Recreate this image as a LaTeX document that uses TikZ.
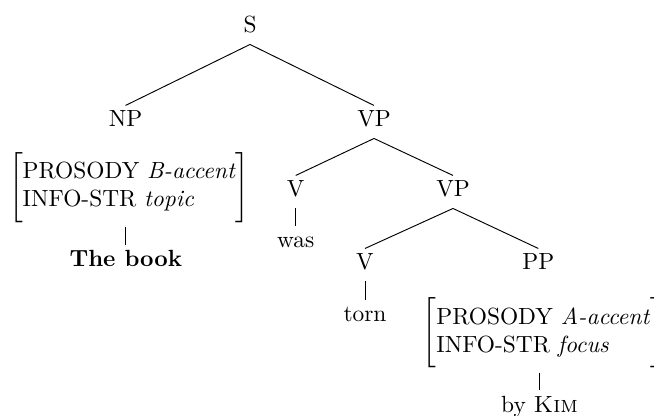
\documentclass[tikz,border=0pt]{standalone}
\begin{document}
\begin{tikzpicture}[x=0.42735pt,y=-0.42735pt,
  lbl/.style={inner sep=2.5pt,text height=6.5pt,text depth=2.2pt,anchor=base},
  avm/.style={inner sep=1.7pt,anchor=base},
  edge/.style={line width=0.4pt}]
\path[use as bounding box] (0,0) rectangle (654,416);
\clip (0,0) rectangle (654,416);
\node[lbl] (S) at (250,33) {S};
\node[lbl] (NP) at (125.5,127) {NP};
\node[lbl] (VP1) at (374,127) {VP};
\node[lbl] (V1) at (295.7,197) {V};
\node[lbl] (VP2) at (453,197) {VP};
\node[lbl] (was) at (295.7,247.3) {was};
\node[lbl] (V2) at (365,270) {V};
\node[lbl] (PP) at (538.3,270) {PP};
\node[lbl] (torn) at (365,321.7) {torn};
\node[avm] (avm1) at (129.2,193.2) {$\Bigg[\begin{tabular}{@{}l@{}}PROSODY \textit{B-accent}\\INFO-STR \textit{topic}\end{tabular}\Bigg]$};
\node[lbl] (book) at (125.8,267) {\textbf{The book}};
\node[avm] (avm2) at (543.3,339) {$\Bigg[\begin{tabular}{@{}l@{}}PROSODY \textit{A-accent}\\INFO-STR \textit{focus}\end{tabular}\Bigg]$};
\node[lbl] (kim) at (539.5,412) {by \textsc{Kim}};
\draw[edge] (S.south) -- (NP.north);
\draw[edge] (S.south) -- (VP1.north);
\draw[edge] (VP1.south) -- (V1.north);
\draw[edge] (VP1.south) -- (VP2.north);
\draw[edge] (V1.south) -- (was.north);
\draw[edge] (VP2.south) -- (V2.north);
\draw[edge] (VP2.south) -- (PP.north);
\draw[edge] (V2.south) -- (torn.north);
\draw[edge] (book.north |- avm1.south) -- (book.north);
\draw[edge] (kim.north |- avm2.south) -- (kim.north);
\end{tikzpicture}
\end{document}
